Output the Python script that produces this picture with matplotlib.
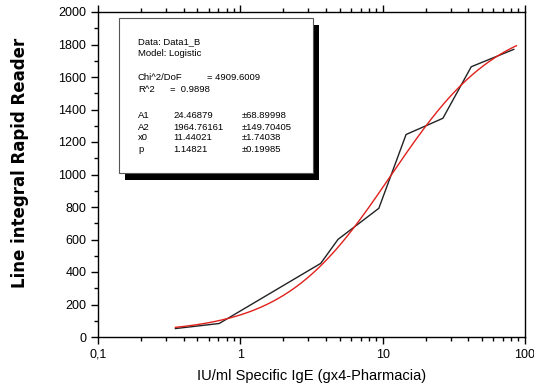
import numpy as np
import matplotlib
matplotlib.use('Agg')
import matplotlib.pyplot as plt
from matplotlib.patches import Rectangle
from matplotlib.ticker import FixedLocator, LogLocator, MultipleLocator, FuncFormatter

# measured points (black line)
igeX = [0.35, 0.71, 3.67, 4.86, 9.4, 14.6, 26.5, 41.9, 83.4]
readerY = [52, 83, 453, 601, 792, 1246, 1346, 1663, 1770]

# logistic fit parameters shown in the box
A1, A2, x0, p = 24.46879, 1964.76161, 11.44021, 1.14821
fitRange = (0.35, 87)

W, H = 534, 392
fig = plt.figure(figsize=(W / 100, H / 100), dpi=100)
ax = fig.add_axes([98 / W, 1 - 337 / H, (525 - 98) / W, (337 - 12) / H])

xs = np.logspace(np.log10(fitRange[0]), np.log10(fitRange[1]), 300)
fit = A2 + (A1 - A2) / (1 + (xs / x0) ** p)

ax.plot(igeX, readerY, color='#222222', lw=1.0)
ax.plot(xs, fit, color='#e0201b', lw=1.0)

ax.set_xscale('log')
ax.set_xlim(0.1, 100)
ax.set_ylim(0, 2000)
ax.xaxis.set_major_locator(FixedLocator([0.1, 1, 10, 100]))
ax.xaxis.set_minor_locator(LogLocator(base=10, subs=np.arange(2, 10)))
ax.xaxis.set_major_formatter(FuncFormatter(lambda v, pos: f'{v:g}'.replace('.', ',')))
ax.xaxis.set_minor_formatter(FuncFormatter(lambda v, pos: ''))
ax.yaxis.set_major_locator(MultipleLocator(200))
ax.yaxis.set_minor_locator(MultipleLocator(100))

for s in ax.spines.values():
    s.set_linewidth(1.0)
ax.tick_params(axis='both', which='major', direction='out', length=5, width=1, labelsize=9)
ax.tick_params(axis='both', which='minor', direction='out', length=3, width=1)
ax.tick_params(axis='x', top=True, which='both')
ax.tick_params(axis='y', right=False, which='both')
for lab in ax.get_xticklabels() + ax.get_yticklabels():
    lab.set_family('Liberation Sans')

ax.set_xlabel('IU/ml Specific IgE (gx4-Pharmacia)', family='Liberation Sans', fontsize=10.5, labelpad=6)
fig.text(20 / W, 1 - 163 / H, 'Line integral Rapid Reader', rotation=90, fontsize=12,
         fontweight='bold', family='DejaVu Sans', ha='center', va='center')

# stats box with shadow
def px(x, y):
    return x / W, 1 - y / H

bx0, by0, bx1, by1 = 119, 18, 313, 173
fig.add_artist(Rectangle(px(bx0 + 6, by1 + 7), (bx1 - bx0) / W, (by1 - by0) / H,
                         transform=fig.transFigure, facecolor='black', edgecolor='none', zorder=5))
fig.add_artist(Rectangle(px(bx0, by1), (bx1 - bx0) / W, (by1 - by0) / H,
                         transform=fig.transFigure, facecolor='white', edgecolor='#555555', lw=0.8, zorder=6))

rows = [
    (42, [(138, 'Data: Data1_B')]),
    (53, [(138, 'Model: Logistic')]),
    (78, [(138, 'Chi^2/DoF'), (207, '= 4909.6009')]),
    (90, [(138, 'R^2'), (170, '=  0.9898')]),
    (116, [(138, 'A1'), (173, '24.46879'), (242, '\u00b168.89998')]),
    (127, [(138, 'A2'), (173, '1964.76161'), (242, '\u00b1149.70405')]),
    (138, [(138, 'x0'), (173, '11.44021'), (242, '\u00b11.74038')]),
    (150, [(138, 'p'), (173, '1.14821'), (242, '\u00b10.19985')]),
]
for y, cells in rows:
    for x, t in cells:
        fig.text(*px(x, y), t, fontsize=6.8, family='Liberation Sans', va='center', ha='left', zorder=7)

fig.savefig('out.png', dpi=100)
